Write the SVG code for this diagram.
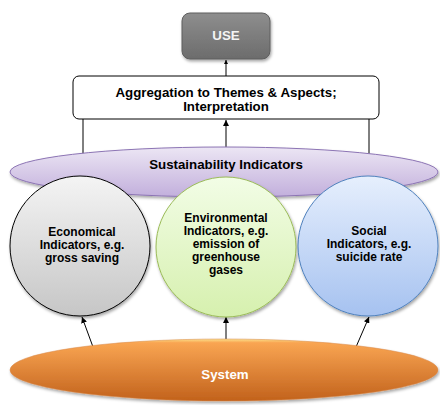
<svg xmlns="http://www.w3.org/2000/svg" width="440" height="405" viewBox="0 0 440 405">
<style>
text{font-family:"Liberation Sans",Arial,sans-serif;font-weight:bold;text-anchor:middle;fill:#000}
.t11{font-size:12px}
.t12{font-size:13.3px}
.con{stroke:#000;stroke-width:1;fill:none}
</style>
<defs>
<filter id="sh" x="-10%" y="-10%" width="120%" height="130%">
<feDropShadow dx="1" dy="2" stdDeviation="1.5" flood-color="#000" flood-opacity="0.35"/>
</filter>
<linearGradient id="gUse" x1="0" y1="0" x2="0" y2="1"><stop offset="0" stop-color="#8e8e8e"/><stop offset="1" stop-color="#6c6c6c"/></linearGradient>
<linearGradient id="gPur" x1="0" y1="0" x2="0" y2="1"><stop offset="0" stop-color="#ece6f4"/><stop offset="1" stop-color="#c2afdc"/></linearGradient>
<linearGradient id="gGray" x1="0" y1="0" x2="0" y2="1"><stop offset="0" stop-color="#f4f4f4"/><stop offset="1" stop-color="#c6c6c6"/></linearGradient>
<linearGradient id="gGreen" x1="0" y1="0" x2="0" y2="1"><stop offset="0" stop-color="#f2fde6"/><stop offset="1" stop-color="#d6f0ae"/></linearGradient>
<linearGradient id="gBlue" x1="0" y1="0" x2="0" y2="1"><stop offset="0" stop-color="#e6effd"/><stop offset="1" stop-color="#a6c2f0"/></linearGradient>
<linearGradient id="gOr" x1="0" y1="0" x2="0" y2="1"><stop offset="0" stop-color="#fbe08a"/><stop offset="0.06" stop-color="#f9a552"/><stop offset="1" stop-color="#c2621c"/></linearGradient>
<marker id="ah" viewBox="0 0 10 10" refX="10" refY="5" markerWidth="6" markerHeight="6" orient="auto" markerUnits="userSpaceOnUse"><path d="M0,0 L10,5 L0,10 z" fill="#000"/></marker>
<marker id="ah2" viewBox="0 0 10 10" refX="10" refY="5" markerWidth="4" markerHeight="4" orient="auto"><path d="M0,0 L10,5 L0,10 z" fill="#000"/></marker>
</defs>

<g id="connectors">
<line class="con" x1="226" y1="76" x2="226" y2="60" stroke-width="2" marker-end="url(#ah2)"/>
<line class="con" x1="83" y1="119" x2="83" y2="154"/>
<line class="con" x1="369" y1="119" x2="369" y2="154"/>
<line class="con" x1="226" y1="148" x2="226" y2="120" marker-end="url(#ah)"/>
<line class="con" x1="93" y1="347" x2="82" y2="317" marker-end="url(#ah)"/>
<line class="con" x1="226" y1="340" x2="226" y2="317" marker-end="url(#ah)"/>
<line class="con" x1="356" y1="347" x2="369" y2="317" marker-end="url(#ah)"/>
</g>

<g id="use">
<rect x="182" y="13" width="88" height="46" rx="8" fill="url(#gUse)" stroke="#5e5e5e" stroke-width="1" filter="url(#sh)"/>
<text class="t12" x="226" y="40" style="fill:#f4f4f4">USE</text>
</g>

<g id="aggregation">
<rect x="73" y="76" width="306" height="43" rx="6" fill="#fff" stroke="#000" stroke-width="1"/>
<text class="t12" x="226" y="97">Aggregation to Themes &amp; Aspects;</text>
<text class="t12" x="226" y="111">Interpretation</text>
</g>

<g id="sustainability">
<ellipse cx="224" cy="172" rx="214" ry="25" fill="url(#gPur)" stroke="#8c74b4" stroke-width="1" filter="url(#sh)"/>
<text class="t12" x="226" y="169">Sustainability Indicators</text>
</g>

<g id="economical">
<circle cx="80" cy="246" r="70" fill="url(#gGray)" stroke="#000" stroke-width="1" filter="url(#sh)"/>
<text class="t11" x="82" y="236">Economical</text>
<text class="t11" x="82" y="249">Indicators, e.g.</text>
<text class="t11" x="82" y="262">gross saving</text>
</g>

<g id="environmental">
<circle cx="226" cy="247" r="70" fill="url(#gGreen)" stroke="#9bbb59" stroke-width="1" filter="url(#sh)"/>
<text class="t11" x="226" y="222">Environmental</text>
<text class="t11" x="226" y="235">Indicators, e.g.</text>
<text class="t11" x="226" y="248">emission of</text>
<text class="t11" x="226" y="261">greenhouse</text>
<text class="t11" x="226" y="274">gases</text>
</g>

<g id="social">
<circle cx="368" cy="246" r="70" fill="url(#gBlue)" stroke="#4f81bd" stroke-width="1" filter="url(#sh)"/>
<text class="t11" x="369" y="235">Social</text>
<text class="t11" x="369" y="248">Indicators, e.g.</text>
<text class="t11" x="369" y="261">suicide rate</text>
</g>

<g id="system">
<ellipse cx="224" cy="370" rx="214" ry="31" fill="url(#gOr)" stroke="#d8884a" stroke-width="0.5" filter="url(#sh)"/>
<text class="t12" x="225" y="379" style="fill:#fff">System</text>
</g>
</svg>
